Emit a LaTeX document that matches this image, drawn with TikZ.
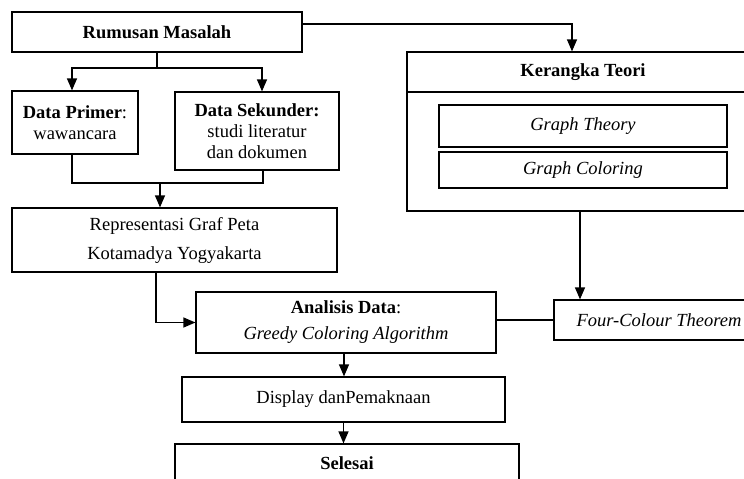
\documentclass[tikz,border=0pt]{standalone}
\usepackage{fontspec}
\setmainfont{Liberation Serif}
\usetikzlibrary{arrows.meta}

\tikzset{
	box/.style={draw, rectangle, inner sep=0pt, align=center, font=\fontsize{18.5}{21}\selectfont},
}

\begin{document}
\begin{tikzpicture}[x=1pt, y=-1pt, line width=1.2pt, >={Triangle[length=12pt,width=10pt]}]
	\useasboundingbox (0,0) rectangle (744,479);
	
	% Problem and data
	\node (rumusan) at (157,32) [box, minimum width=290pt, minimum height=40pt] {\textbf{Rumusan Masalah}};
	\node (primer) at (75,122.5) [box, minimum width=126pt, minimum height=63pt] {\textbf{Data Primer}:\\wawancara};
	\node (sekunder) at (257,131) [box, minimum width=164pt, minimum height=78pt] {\textbf{Data Sekunder:}\\studi literatur\\dan dokumen};
	\node (repr) at (174.5,240) [box, minimum width=325pt, minimum height=64pt] {Representasi Graf Peta\\[8pt]Kotamadya Yogyakarta};
	
	% Theory
	\node (kerangka head) at (583,72) [box, minimum width=352pt, minimum height=40pt] {\textbf{Kerangka Teori}};
	\node (kerangka) at (583,151.5) [box, minimum width=352pt, minimum height=119pt] {};
	\node (theory) at (583,126) [box, minimum width=288pt, minimum height=42pt] {\textit{Graph Theory}};
	\node (coloring) at (583,170) [box, minimum width=288pt, minimum height=36pt] {\textit{Graph Coloring}};
	
	% Analysis and result
	\node (analisis) at (346,322.5) [box, minimum width=300pt, minimum height=61pt] {\textbf{Analisis Data}:\\[5pt]\textit{Greedy Coloring Algorithm}};
	\node (four) at (659,320) [box, minimum width=210pt, minimum height=40pt] {\textit{Four-Colour Theorem}};
	\node (display) at (343.5,399.5) [box, minimum width=323pt, minimum height=45pt] {Display danPemaknaan};
	\node (selesai) at (347,463) [box, minimum width=344pt, minimum height=38pt] {\textbf{Selesai}};
	
	\coordinate (split) at (157,68);
	\coordinate (join) at (160,183);
	
	% Connectors
	\draw [->] ([yshift=8pt]rumusan.east) -| ([xshift=-11pt]kerangka head.north);
	\draw [->] (rumusan.south) |- (split) -| ([xshift=-3pt]primer.north);
	\draw [->] (split) -| ([xshift=5pt]sekunder.north);
	\draw ([xshift=-3pt]primer.south) |- (join) -| ([xshift=6pt]sekunder.south);
	\draw [->] (join) -- (join |- repr.north);
	\draw [->] ([xshift=-18.5pt]repr.south) |- (analisis.west);
	\draw (four.west) -- (four.west -| analisis.east);
	\draw [->] ([xshift=-3pt]kerangka.south) -- ([xshift=-3pt]kerangka.south |- four.north);
	\draw [->] ([xshift=-2pt]analisis.south) -- ([xshift=-2pt]analisis.south |- display.north);
	\draw [->] (display.south) -- (display.south |- selesai.north);
	
\end{tikzpicture}
\end{document}
